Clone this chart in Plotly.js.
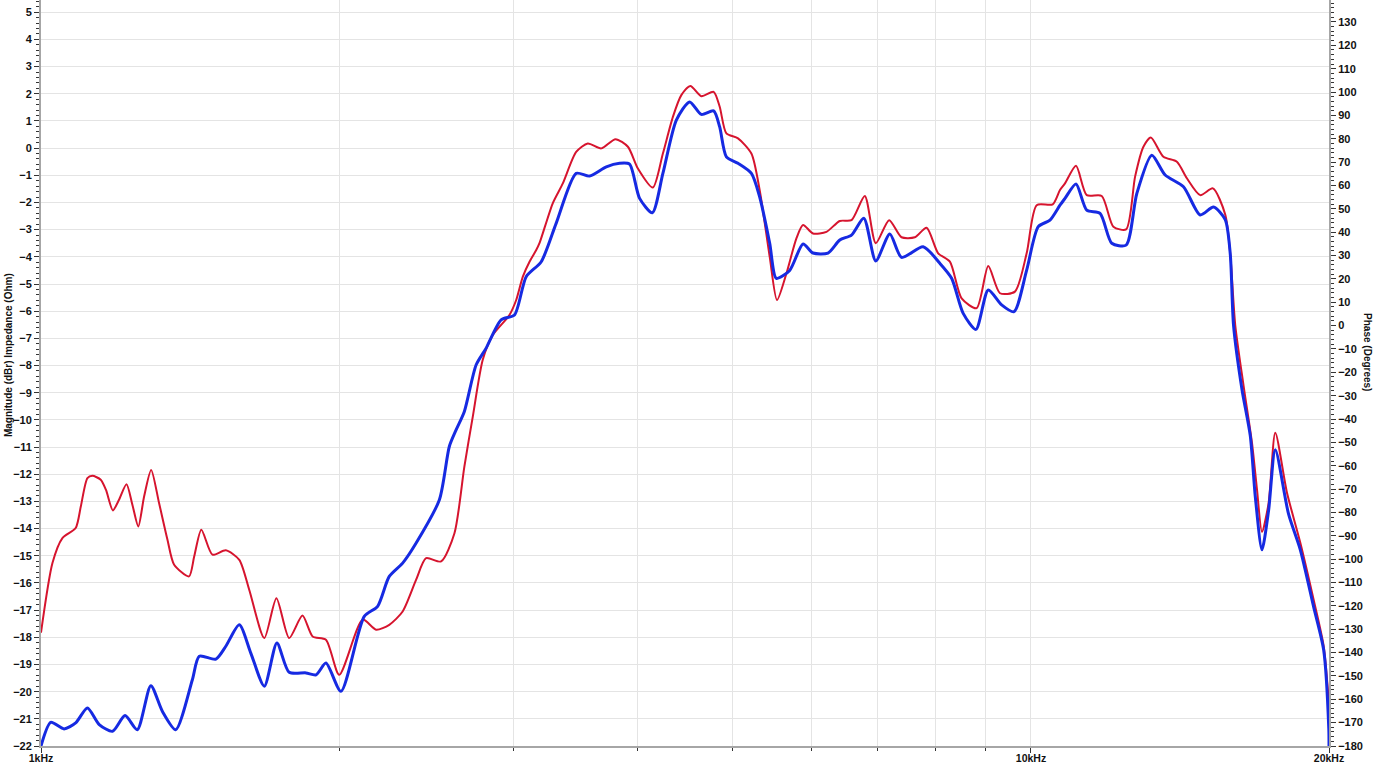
<!DOCTYPE html>
<html><head><meta charset="utf-8">
<script src="https://cdn.plot.ly/plotly-3.0.1.min.js"></script>
<style>html,body{margin:0;padding:0;background:#fff;}#chart{width:1373px;height:766px;}</style>
</head><body><div id="chart"></div>
<script>
// Frequencies in Hz, magnitudes in dBr
const redFreq = [1000,1027,1051,1084,1097,1114,1127,1149,1163,1182,1199,1220,1237,1254,1271,1292,1316,1342,1363,1411,1428,1452,1490,1537,1586,1623,1681,1729,1781,1837,1881,1940,2001,2113,2180,2248,2319,2393,2449,2536,2616,2677,2730,2794,2860,2973,3020,3067,3115,3164,3188,3288,3366,3472,3567,3681,3805,3916,4008,4150,4248,4348,4434,4528,4645,4780,4848,4924,5059,5219,5320,5446,5539,5662,5795,5885,6023,6214,6410,6587,6794,6970,7190,7400,7633,7844,8059,8281,8510,8812,9054,9304,9634,9900,10133,10518,10698,10823,11104,11384,11789,12112,12476,12740,12989,13215,13608,14040,14371,14823,15268,15711,15895,16081,16395,16719,16914,17112,17378,17651,18138,18709,19298,19752,19983,20000];
const redMag = [-17.83,-15.27,-14.35,-13.98,-13.19,-12.14,-12.06,-12.2,-12.57,-13.33,-12.94,-12.37,-13.13,-13.92,-12.82,-11.84,-13.06,-14.41,-15.33,-15.76,-15.03,-14.04,-14.96,-14.8,-15.15,-16.25,-18.03,-16.56,-18.03,-17.2,-17.97,-18.09,-19.38,-17.35,-17.72,-17.54,-17.05,-15.88,-15.09,-15.21,-14.17,-11.72,-9.88,-7.79,-6.88,-6.14,-5.59,-4.73,-4.18,-3.75,-3.5,-2.03,-1.3,-0.14,0.17,-0.01,0.33,0.05,-0.75,-1.45,-0.2,1.15,1.95,2.29,1.91,2.07,1.52,0.54,0.36,-0.2,-1.54,-4.0,-5.59,-4.61,-3.32,-2.83,-3.14,-3.08,-2.68,-2.65,-1.76,-3.5,-2.65,-3.28,-3.28,-2.93,-3.87,-4.18,-5.53,-5.89,-4.34,-5.34,-5.28,-3.87,-2.1,-2.07,-1.54,-1.3,-0.65,-1.73,-1.76,-2.89,-2.99,-1.05,0.05,0.39,-0.32,-0.5,-1.11,-1.73,-1.48,-2.44,-3.88,-6.51,-8.74,-10.84,-12.55,-14.12,-13.07,-10.47,-12.68,-14.52,-16.62,-18.32,-20.29,-20.5];
const blueFreq = [1000,1023,1055,1084,1114,1145,1181,1216,1251,1291,1326,1368,1422,1445,1502,1537,1586,1629,1681,1731,1781,1852,1896,1940,2009,2121,2188,2248,2319,2393,2526,2585,2626,2677,2751,2816,2916,3008,3091,3201,3314,3472,3582,3724,3841,3931,4024,4145,4248,4383,4521,4645,4780,4848,4924,5059,5219,5320,5446,5531,5705,5885,6023,6237,6410,6587,6778,6970,7201,7400,7782,8090,8314,8541,8798,9054,9340,9612,9900,10171,10452,10698,10823,11104,11384,11743,12067,12476,12791,13245,13662,14257,14823,15289,15711,15895,16017,16334,16653,16848,17112,17378,17651,18206,18709,19298,19752,19990,20000];
const blueMag = [-22.0,-21.13,-21.37,-21.15,-20.6,-21.21,-21.46,-20.88,-21.4,-19.78,-20.72,-21.4,-19.56,-18.7,-18.8,-18.33,-17.54,-18.58,-19.8,-18.21,-19.29,-19.31,-19.38,-18.95,-19.99,-17.23,-16.86,-15.76,-15.27,-14.53,-12.94,-10.98,-10.37,-9.69,-7.98,-7.36,-6.32,-6.14,-4.73,-4.18,-2.77,-0.93,-1.03,-0.69,-0.56,-0.59,-1.85,-2.38,-0.93,1.03,1.7,1.24,1.37,0.78,-0.32,-0.56,-0.93,-1.79,-3.5,-4.79,-4.5,-3.53,-3.86,-3.86,-3.38,-3.2,-2.58,-4.15,-3.16,-4.02,-3.63,-4.24,-4.79,-6.08,-6.67,-5.22,-5.77,-6.02,-4.49,-2.89,-2.65,-2.1,-1.85,-1.32,-2.28,-2.4,-3.5,-3.57,-1.67,-0.26,-0.99,-1.42,-2.46,-2.17,-2.63,-3.88,-6.51,-8.87,-10.58,-12.81,-14.78,-13.34,-11.1,-13.47,-14.78,-16.88,-18.46,-21.35,-22.0];

const xTickVals = [1000, 10000, 20000];
const xTickText = ['1kHz', '10kHz', '20kHz'];
const xMinorVals = [2000, 3000, 4000, 5000, 6000, 7000, 8000, 9000];
const leftRange = [-22, 5.45];
const rightRange = [-180, 139.4];
const leftTitle = 'Magnitude (dBr) Impedance (Ohm)';
const rightTitle = 'Phase (Degrees)';

const redColor = 'rgb(214,20,46)';
const blueColor = 'rgb(22,42,226)';
const axisGray = '#a6a6a6';
const gridGray = '#e4e4e4';
const tickFont = {family: 'Liberation Sans, Arial, sans-serif', size: 11, color: '#111', weight: 'bold'};
const xTickFont = {family: 'Liberation Sans, Arial, sans-serif', size: 10.5, color: '#111', weight: 'bold'};

const traces = [
  {x: redFreq, y: redMag, type: 'scatter', mode: 'lines', line: {color: redColor, width: 2, shape: 'spline', smoothing: 0.7}, hoverinfo: 'skip', showlegend: false},
  {x: blueFreq, y: blueMag, type: 'scatter', mode: 'lines', line: {color: blueColor, width: 3, shape: 'spline', smoothing: 0.7}, hoverinfo: 'skip', showlegend: false}
];

const layout = {
  width: 1373, height: 766,
  margin: {l: 41, r: 44, t: 0, b: 20, pad: 0},
  paper_bgcolor: '#fff', plot_bgcolor: '#fff',
  showlegend: false,
  xaxis: {
    type: 'log', range: [Math.log10(1000), Math.log10(20000)],
    tickmode: 'array', tickvals: xTickVals, ticktext: xTickText,
    ticks: 'outside', ticklen: 5, tickcolor: '#333', tickwidth: 1,
    ticklabelstandoff: -4,
    showgrid: true, gridcolor: gridGray, gridwidth: 1,
    minor: {tickmode: 'array', tickvals: xMinorVals, ticks: 'outside', ticklen: 3, tickcolor: '#333', showgrid: true, gridcolor: gridGray, gridwidth: 1},
    showline: true, linecolor: axisGray, linewidth: 2,
    zeroline: false, tickfont: xTickFont, fixedrange: true
  },
  yaxis: {
    range: leftRange, dtick: 1, tick0: 0,
    ticks: 'outside', ticklen: 5, tickcolor: '#333', tickwidth: 1,
    minor: {dtick: 0.2, ticks: 'outside', ticklen: 3, tickcolor: '#333', showgrid: false},
    showgrid: true, gridcolor: gridGray, gridwidth: 1,
    showline: true, linecolor: axisGray, linewidth: 2,
    zeroline: false, tickfont: tickFont, fixedrange: true
  },
  yaxis2: {
    overlaying: 'y', side: 'right', range: rightRange, dtick: 10, tick0: 0,
    ticks: 'outside', ticklen: 5, tickcolor: '#333', tickwidth: 1,
    minor: {dtick: 2, ticks: 'outside', ticklen: 3, tickcolor: '#333', showgrid: false},
    showgrid: false, showline: true, linecolor: axisGray, linewidth: 2,
    zeroline: false, tickfont: tickFont, fixedrange: true
  },
  annotations: [
    {text: leftTitle, xref: 'paper', yref: 'paper', x: -0.0256, y: 0.524, textangle: -90, showarrow: false, xanchor: 'center', yanchor: 'middle', font: {family: 'Liberation Sans, Arial, sans-serif', size: 10, color: '#111', weight: 'bold'}},
    {text: rightTitle, xref: 'paper', yref: 'paper', x: 1.0303, y: 0.528, textangle: 90, showarrow: false, xanchor: 'center', yanchor: 'middle', font: {family: 'Liberation Sans, Arial, sans-serif', size: 10, color: '#111', weight: 'bold'}}
  ]
};

// Invisible helper trace so that the right axis is registered
traces.push({x: [xTickVals[0]], y: [rightRange[0]], yaxis: 'y2', type: 'scatter', mode: 'markers', marker: {opacity: 0}, hoverinfo: 'skip', showlegend: false});

Plotly.newPlot('chart', traces, layout, {staticPlot: true, displayModeBar: false});
</script>
</body></html>
